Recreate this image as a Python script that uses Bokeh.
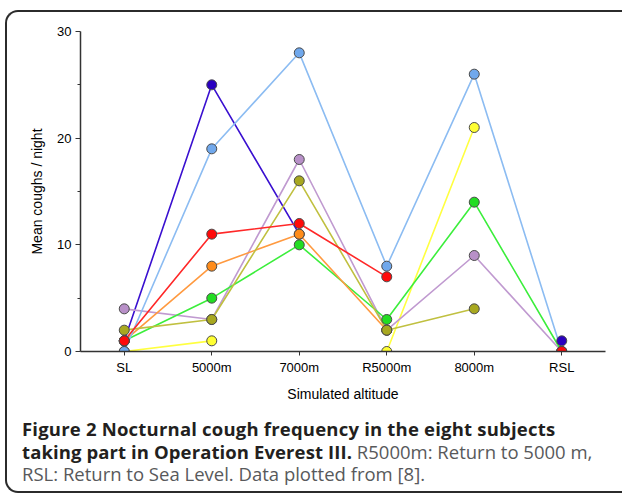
import math
from bokeh.plotting import figure
from bokeh.layouts import column
from bokeh.models import FixedTicker, Range1d, Div, InlineStyleSheet
from bokeh.embed import file_html
from bokeh.resources import INLINE

nan = float("nan")

altitudes = ["SL", "5000m", "7000m", "R5000m", "8000m", "RSL"]
subj_indigo = [1, 25, 11, nan, nan, 1]
subj_skyblue = [0, 19, 28, 8, 26, 0]
subj_red = [1, 11, 12, 7, nan, 0]
subj_orange = [1, 8, 11, 2, nan, nan]
subj_green = [1, 5, 10, 3, 14, 0]
subj_lilac = [4, 3, 18, 2, 9, 0]
subj_olive = [2, 3, 16, 2, 4, nan]
subj_yellow = [0, 1, nan, 0, 21, nan]
y_ticks = [0, 10, 20, 30]
y_minor_ticks = [5, 15, 25]

caption_bold_1 = "Figure 2 Nocturnal cough frequency in the eight subjects"
caption_bold_2 = "taking part in Operation Everest III."
caption_reg_2 = "R5000m: Return to 5000 m,"
caption_reg_3 = "RSL: Return to Sea Level. Data plotted from [8]."

x_idx = list(range(len(altitudes)))

series = [
    (subj_indigo, "#3a10d0", "#2a00c0"),
    (subj_yellow, "#ffff40", "#ffff33"),
    (subj_lilac, "#c09ad0", "#b890c8"),
    (subj_green, "#3cee3c", "#22dd22"),
    (subj_orange, "#ff9a40", "#ff8c1a"),
    (subj_olive, "#c0c040", "#a8a820"),
    (subj_skyblue, "#8cbcf2", "#70a8ec"),
    (subj_red, "#ff2828", "#ff0a0a"),
]

W, H = 622, 414
p = figure(width=W, height=H, output_backend="svg", toolbar_location=None,
           x_range=Range1d(-0.5, 5.5), y_range=Range1d(0, 30),
           min_border_left=80, min_border_right=17, min_border_top=31,
           min_border_bottom=63)
p.outline_line_color = None
p.grid.visible = False
p.background_fill_color = None
p.border_fill_color = None

for vals, lc, mc in series:
    p.line(x_idx, vals, line_color=lc, line_width=1.6)
for vals, lc, mc in series:
    xs = [x for x, v in zip(x_idx, vals) if not math.isnan(v)]
    ys = [v for v in vals if not math.isnan(v)]
    p.scatter(xs, ys, size=10, fill_color=mc, line_color="#4a4a4a", line_width=1)

ax = p.xaxis[0]
ax.ticker = FixedTicker(ticks=x_idx)
ax.major_label_overrides = {i: a for i, a in enumerate(altitudes)}
ax.major_tick_out = 4
ax.major_tick_in = 0
ax.minor_tick_out = 0
ax.axis_line_color = "#333333"
ax.axis_line_width = 1.5
ax.major_tick_line_color = "#333333"
ax.major_label_text_font = "Liberation Sans"
ax.major_label_text_font_size = "13px"
ax.major_label_text_color = "black"
ax.major_label_standoff = 4
ax.axis_label = "Simulated altitude"
ax.axis_label_text_font = "Liberation Sans"
ax.axis_label_text_font_size = "14px"
ax.axis_label_text_font_style = "normal"
ax.axis_label_text_color = "black"
ax.axis_label_standoff = 8

ay = p.yaxis[0]
ay.ticker = FixedTicker(ticks=y_ticks, minor_ticks=y_minor_ticks)
ay.major_tick_out = 5
ay.major_tick_in = 0
ay.minor_tick_out = 3
ay.minor_tick_in = 0
ay.axis_line_color = "#333333"
ay.axis_line_width = 1.5
ay.major_tick_line_color = "#333333"
ay.minor_tick_line_color = "#333333"
ay.major_label_text_font = "Liberation Sans"
ay.major_label_text_font_size = "13px"
ay.major_label_text_color = "black"
ay.major_label_standoff = 4
ay.axis_label = "Mean coughs / night"
ay.axis_label_text_font = "Liberation Sans"
ay.axis_label_text_font_size = "14px"
ay.axis_label_text_font_style = "normal"
ay.axis_label_text_color = "black"
ay.axis_label_standoff = 9

cap_html = (
    '<div style="font-family:\'Open Sans\'; font-size:18.5px; line-height:22.5px; '
    'padding:4px 0 0 22px; white-space:nowrap; color:#58595b;">'
    f'<span style="font-weight:bold; color:#231f20; letter-spacing:0.2px;">{caption_bold_1}</span><br>'
    f'<span style="font-weight:bold; color:#231f20; letter-spacing:0.1px;">{caption_bold_2}</span> '
    f'<span style="letter-spacing:0px;">{caption_reg_2}</span><br>'
    f'<span style="letter-spacing:0px;">{caption_reg_3}</span>'
    '</div>'
)
cap = Div(text=cap_html, width=W, height=494 - H, margin=0)

border_css = InlineStyleSheet(css="""
:host { position: relative; }
:host::after {
  content: ""; position: absolute; left: 5px; top: 10px; right: 0px; bottom: 1px;
  border: 2px solid #2b2b2b; border-right: none; border-radius: 13px 0 0 13px;
  pointer-events: none;
}
""")

layout = column(p, cap, spacing=0, stylesheets=[border_css])

open("out.html", "w").write(file_html(layout, INLINE))
